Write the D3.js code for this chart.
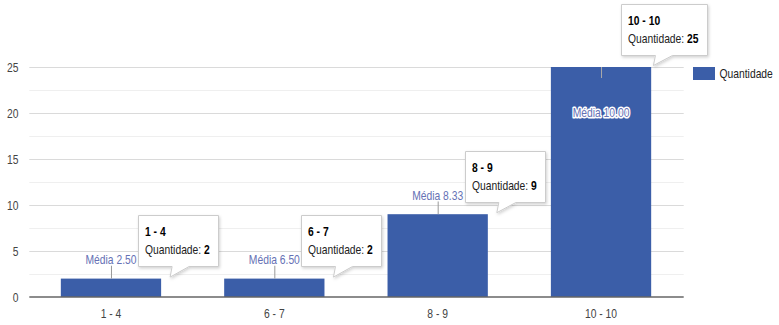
<!DOCTYPE html>
<html>
<head>
<meta charset="utf-8">
<script src="https://cdn.jsdelivr.net/npm/d3@7"></script>
<style>
  body { margin: 0; background: #fff; }
  svg { display: block; font-family: Arial, "Liberation Sans", sans-serif; }
</style>
</head>
<body>
<svg id="chart" width="779" height="325"></svg>
<script>
// Distribution of grades: count per range and the average inside each range
const categories = ["1 - 4", "6 - 7", "8 - 9", "10 - 10"];
const quantities = [2, 2, 9, 25];
const averages = [2.50, 6.50, 8.33, 10.00];
const yTicks = [0, 5, 10, 15, 20, 25];
const yMinorTicks = [2.5, 7.5, 12.5, 17.5, 22.5];
const seriesName = "Quantidade";
const avgPrefix = "Média ";

const W = 779, H = 325;
const plot = { left: 29.3, right: 682.7, top: 67, bottom: 297 };
const SX = 0.86;            // horizontal squeeze of the text face
const barColor = "#3b5ea8";
const annColor = "#6571b5";

const svg = d3.select("#chart");

const x = d3.scaleBand()
  .domain(categories)
  .range([plot.left, plot.right])
  .paddingInner(0.386)
  .paddingOuter(0.193);

const y = d3.scaleLinear()
  .domain([0, 25])
  .range([plot.bottom, plot.top]);

// text helper: places a string with a narrowed face
function txt(parent, px, py, str, anchor) {
  return parent.append("text")
    .attr("transform", `translate(${px},${py}) scale(${SX},1)`)
    .attr("text-anchor", anchor || "start")
    .attr("font-size", 12)
    .text(str);
}

const defs = svg.append("defs");
const sh = defs.append("filter").attr("id", "tipShadow")
  .attr("x", "-20%").attr("y", "-20%").attr("width", "140%").attr("height", "150%");
sh.append("feDropShadow").attr("dx", 1).attr("dy", 1.5)
  .attr("stdDeviation", 1.5).attr("flood-color", "#000").attr("flood-opacity", 0.18);

// minor and major gridlines
svg.append("g").selectAll("line").data(yMinorTicks).join("line")
  .attr("x1", plot.left).attr("x2", plot.right + 1)
  .attr("y1", d => Math.round(y(d)) + 0.5).attr("y2", d => Math.round(y(d)) + 0.5)
  .attr("stroke", "#efefef");

const yAxis = svg.append("g")
  .attr("transform", `translate(${plot.left},0)`)
  .call(d3.axisLeft(y).tickValues(yTicks).tickSize(-(plot.right + 1 - plot.left)).tickFormat(d3.format("d")));
yAxis.select(".domain").remove();
yAxis.selectAll(".tick line").attr("stroke", "#dadada")
  .filter(d => d === 0).remove();
yAxis.selectAll(".tick text")
  .attr("x", null).attr("dy", null)
  .attr("transform", `translate(-10.8,4.6) scale(${SX},1)`)
  .attr("font-size", 12).attr("font-family", "Arial, 'Liberation Sans', sans-serif")
  .attr("fill", "#444");

// bars
svg.append("g").selectAll("rect").data(categories).join("rect")
  .attr("x", d => x(d))
  .attr("width", x.bandwidth())
  .attr("y", (d, i) => y(quantities[i]))
  .attr("height", (d, i) => y(0) - y(quantities[i]))
  .attr("fill", barColor);

// baseline
svg.append("line")
  .attr("x1", plot.left).attr("x2", plot.right + 1)
  .attr("y1", y(0)).attr("y2", y(0))
  .attr("stroke", "#666").attr("stroke-width", 1.4);

// category labels
const xAxis = svg.append("g")
  .attr("transform", `translate(0,${plot.bottom})`)
  .call(d3.axisBottom(x).tickSize(0));
xAxis.select(".domain").remove();
xAxis.selectAll(".tick text")
  .attr("y", null).attr("dy", null)
  .attr("transform", `translate(0,21) scale(${SX},1)`)
  .attr("font-size", 12).attr("font-family", "Arial, 'Liberation Sans', sans-serif")
  .attr("fill", "#444");

// average annotations with stems
const ann = svg.append("g");
categories.forEach((c, i) => {
  const cx = x(c) + x.bandwidth() / 2;
  const top = y(quantities[i]);
  const label = avgPrefix + d3.format(".2f")(averages[i]);
  const outside = top - 14 - 10 >= plot.top - 20 && top - 14 > plot.top;
  let ly;
  if (outside) {
    ann.append("line").attr("x1", cx + 0.5).attr("x2", cx + 0.5)
      .attr("y1", top).attr("y2", top - 13).attr("stroke", "#999");
    ly = top - 14.5;
  } else {
    ann.append("line").attr("x1", cx + 0.5).attr("x2", cx + 0.5)
      .attr("y1", top).attr("y2", top + 11).attr("stroke", "#a9a9a9");
    ly = top + 50;
  }
  txt(ann, cx, ly, label, "middle")
    .attr("fill", annColor)
    .attr("stroke", "#fff").attr("stroke-width", 3)
    .attr("stroke-linejoin", "round")
    .attr("paint-order", "stroke");
});

// callout boxes
const tipMaxRight = 707;
const tips = svg.append("g");
categories.forEach((c, i) => {
  const barRight = x(c) + x.bandwidth();
  const top = y(quantities[i]);
  const g = tips.append("g");
  const t1 = txt(g, 0, 0, c).attr("font-weight", "bold").attr("fill", "#000");
  const t2 = txt(g, 0, 0, "").attr("fill", "#222");
  t2.append("tspan").text(seriesName + ": ");
  t2.append("tspan").attr("font-weight", "bold").attr("fill", "#000").text(quantities[i]);
  const w = Math.max(t1.node().getComputedTextLength(), t2.node().getComputedTextLength()) * SX + 15;
  let ax = barRight + 9;
  const ay = top - 1.5;
  if (ax - 32 + w > tipMaxRight) ax = tipMaxRight - w + 32;
  const bl = Math.round(ax - 32) + 0.5, br = Math.round(bl + w) + 0.5;
  const bb = Math.round(ay - 11) + 0.5, bt = bb - 51;
  const path = `M${bl},${bt}H${br}V${bb}H${ax + 19}L${ax},${ay}L${ax + 2},${bb}H${bl}Z`;
  g.insert("path", "text").attr("d", path)
    .attr("fill", "#fff").attr("stroke", "#ccc").attr("filter", "url(#tipShadow)");
  t1.attr("transform", `translate(${bl + 6.5},${bt + 20}) scale(${SX},1)`);
  t2.attr("transform", `translate(${bl + 6.5},${bt + 38}) scale(${SX},1)`);
});

// legend
const lg = svg.append("g");
lg.append("rect").attr("x", 693).attr("y", 67).attr("width", 22).attr("height", 13).attr("fill", barColor);
txt(lg, 719.5, 78, seriesName).attr("fill", "#222");
</script>
</body>
</html>
